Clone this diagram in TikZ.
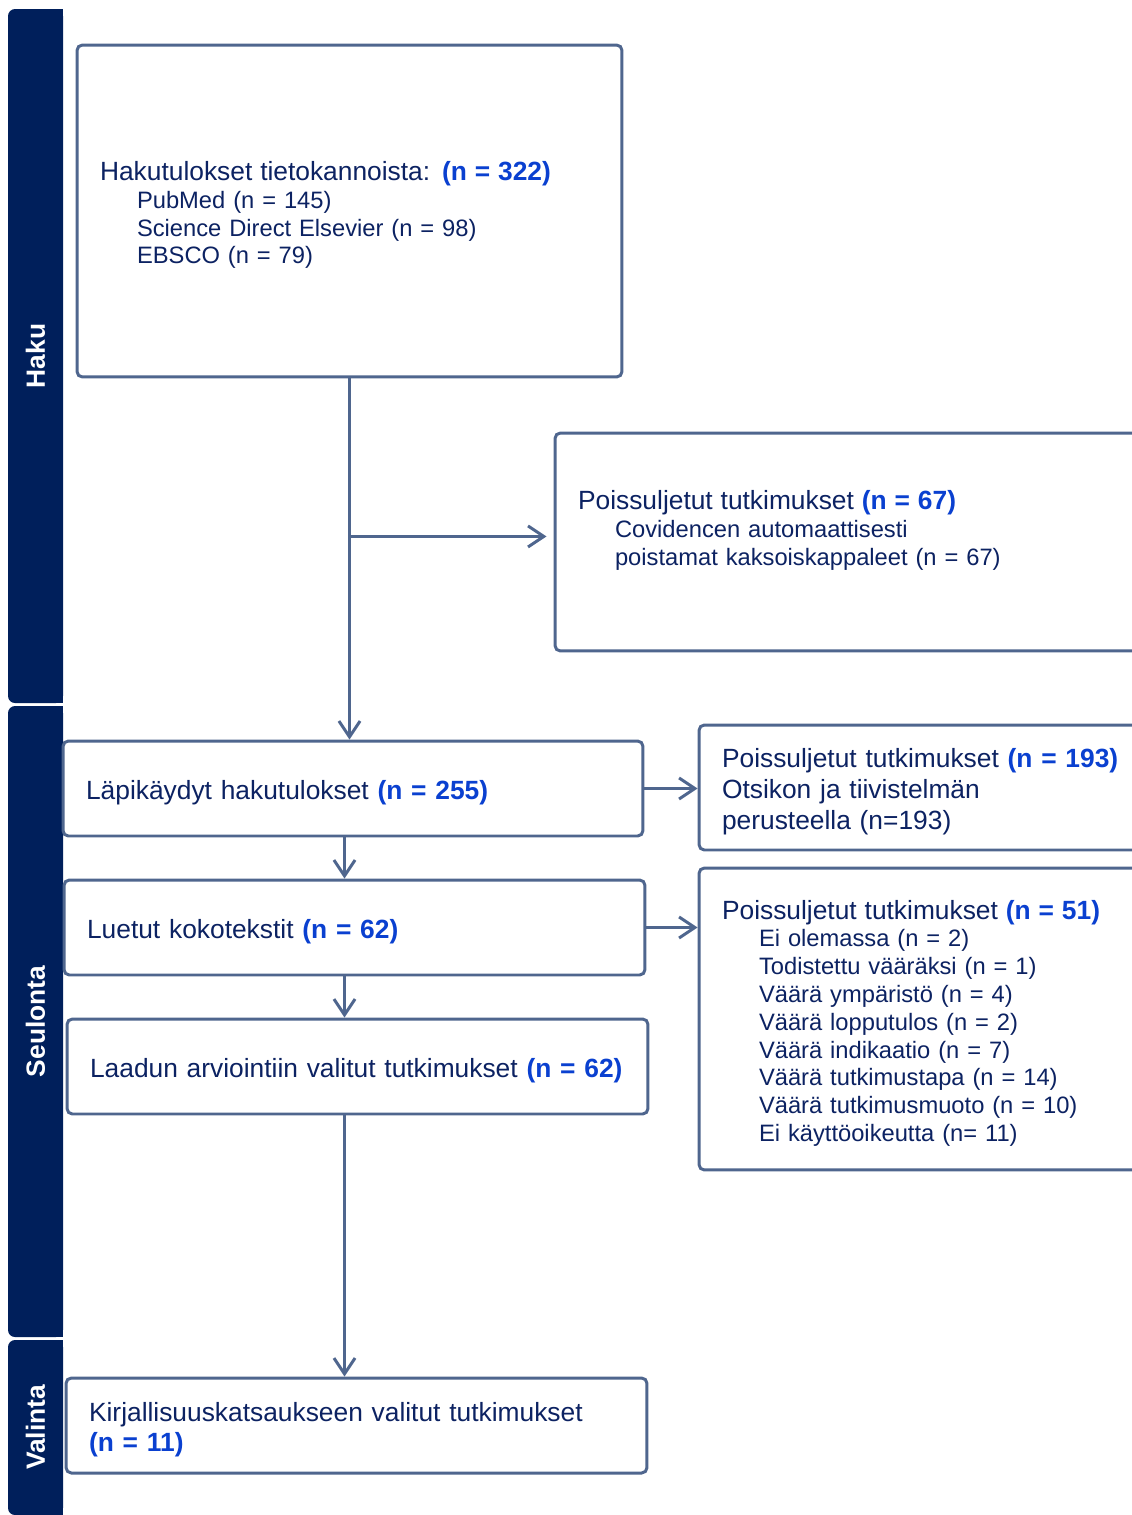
\documentclass[tikz,border=0pt]{standalone}
\usepackage{fontspec}
\setmainfont{Liberation Sans}
\usetikzlibrary{arrows.meta,positioning}

\definecolor{navytext}{RGB}{12,34,98}
\definecolor{nblue}{RGB}{10,64,208}
\definecolor{edgeblue}{RGB}{79,102,142}
\definecolor{barblue}{RGB}{0,31,91}

\newcommand{\nval}[1]{\textbf{\color{nblue}#1}}
\newcommand{\subsize}{\fontsize{13.5}{15.8}\selectfont}
\newcommand{\titlesize}{\fontsize{15}{15.8}\selectfont}
\newcommand{\indentx}{\hspace*{0.74cm}}
\newcommand{\topstrut}{\rule{0pt}{15.6pt}}
\newcommand{\botstrut}{\rule[-15.8pt]{0pt}{15.8pt}}

\tikzset{
  box/.style={draw=edgeblue, line width=1.7pt, rounded corners=3pt, fill=white,
    text=navytext, align=left, inner xsep=0.46cm, font=\fontsize{15}{17.6}\selectfont},
  flow/.style={draw=edgeblue, line width=1.7pt, -{Straight Barb[length=9pt,width=12pt]}},
  phase/.style={rotate=90, text=white, font=\bfseries\fontsize{15}{18}\selectfont},
}

\begin{document}
\begin{tikzpicture}[x=0.02cm, y=-0.02cm]
\useasboundingbox (0,0) rectangle (1132,1515);
\clip (0,0) rectangle (1132,1515);

% Phase bars on the left
\foreach \name/\ya/\yb/\lbl in {haku/9/703/Haku, seulonta/706/1337/Seulonta, valinta/1340/1515/Valinta} {
    \fill[barblue, rounded corners=4pt] (8,\ya) rectangle (63,\yb);
    \fill[barblue] (35,\ya) rectangle (63,\yb);
    \node[phase] (\name) at (35.5,{(\ya+\yb)/2}) {\lbl};
}

% Haku
\node[box, font=\subsize, minimum width=10.9cm, text width=9.98cm, minimum height=6.64cm] (search) at (349.5,211) {%
    {\titlesize\topstrut Hakutulokset tietokannoista: \nval{(n = 322)}}\\
    \indentx PubMed (n = 145)\\
    \indentx Science Direct Elsevier (n = 98)\\
    \indentx EBSCO (n = 79)};
\node[box, font=\subsize, minimum width=11.8cm, text width=10.88cm, minimum height=4.36cm] (dupes) at (850,542) {%
    {\titlesize Poissuljetut tutkimukset \nval{(n = 67)}}\\
    \indentx Covidencen automaattisesti\\
    \indentx poistamat kaksoiskappaleet (n = 67)\botstrut};

% Seulonta
\node[box, minimum width=11.6cm, text width=10.68cm, minimum height=1.9cm] (screened) at (353,788.5)
    {\topstrut Läpikäydyt hakutulokset \nval{(n = 255)}};
\node[box, minimum width=8.92cm, text width=8cm, minimum height=2.5cm] (titleabs) at (922,787.5) {%
    \topstrut Poissuljetut tutkimukset \nval{(n = 193)}\\
    Otsikon ja tiivistelmän\\
    perusteella (n=193)};
\node[box, minimum width=11.62cm, text width=10.7cm, minimum height=1.9cm] (fulltext) at (354.5,927.5)
    {\topstrut Luetut kokotekstit \nval{(n = 62)}};
\node[box, font=\subsize, minimum width=8.92cm, text width=8cm, minimum height=6.04cm] (reasons) at (922,1019) {%
    {\titlesize\topstrut Poissuljetut tutkimukset \nval{(n = 51)}}\\
    \indentx Ei olemassa (n = 2)\\
    \indentx Todistettu vääräksi (n = 1)\\
    \indentx Väärä ympäristö (n = 4)\\
    \indentx Väärä lopputulos (n = 2)\\
    \indentx Väärä indikaatio (n = 7)\\
    \indentx Väärä tutkimustapa (n = 14)\\
    \indentx Väärä tutkimusmuoto (n = 10)\\
    \indentx Ei käyttöoikeutta (n= 11)};
\node[box, minimum width=11.62cm, text width=10.7cm, minimum height=1.9cm] (quality) at (357.5,1066.5)
    {\topstrut Laadun arviointiin valitut tutkimukset \nval{(n = 62)}};

% Valinta
\node[box, minimum width=11.62cm, text width=10.7cm, minimum height=1.9cm] (included) at (356.5,1425.5) {%
    \topstrut Kirjallisuuskatsaukseen valitut tutkimukset\\
    \nval{(n = 11)}};

% Connectors
\path (search.south) ++(0,158) coordinate (branch);
\path (search.south) ++(-5,0) coordinate (spine);
\draw[flow] (search.south) -- (search.south |- screened.north);
\draw[flow, shorten >=4pt] (branch) -- (dupes.west |- branch);
\draw[flow] (screened.east) -- (titleabs.west |- screened.east);
\draw[flow] (screened.south -| spine) -- (fulltext.north -| spine);
\draw[flow] (fulltext.east) -- (reasons.west |- fulltext.east);
\draw[flow] (fulltext.south -| spine) -- (quality.north -| spine);
\draw[flow] (quality.south -| spine) -- (included.north -| spine);
\end{tikzpicture}
\end{document}
